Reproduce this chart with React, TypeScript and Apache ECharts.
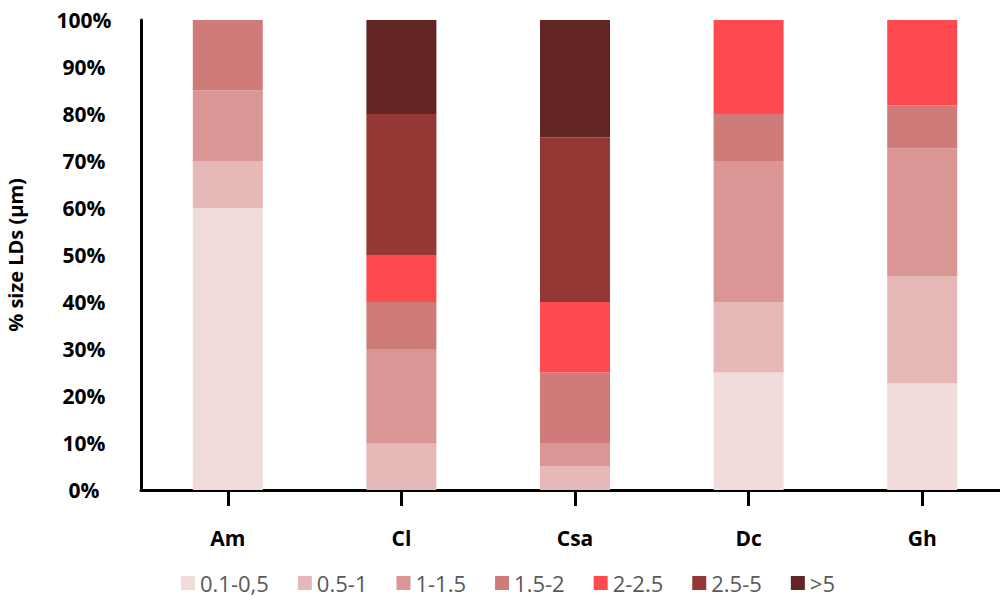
import React, { useEffect, useRef } from "react";
import * as echarts from "echarts";

// Sample groups along the x axis
const categories = ["Am", "Cl", "Csa", "Dc", "Gh"];

// Share (%) of lipid droplets in each size class, per sample
const size01to05 = [60, 0, 0, 25, 22.7];
const size05to1 = [10, 10, 5, 15, 22.7];
const size1to15 = [15, 20, 5, 30, 27.3];
const size15to2 = [15, 10, 15, 10, 9.1];
const size2to25 = [0, 10, 15, 20, 18.2];
const size25to5 = [0, 30, 35, 0, 0];
const sizeOver5 = [0, 20, 25, 0, 0];

const classNames = ["0.1-0,5", "0.5-1", "1-1.5", "1.5-2", "2-2.5", "2.5-5", ">5"];
const classValues = [size01to05, size05to1, size1to15, size15to2, size2to25, size25to5, sizeOver5];
const classColors = ["#f2dcdb", "#e6b9b8", "#d99694", "#cf7b79", "#ff4b50", "#953735", "#632523"];

const FONT = "'Open Sans', 'Noto Sans', sans-serif";

export default function App() {
  const ref = useRef<HTMLDivElement>(null);

  useEffect(() => {
    if (!ref.current) return;
    const chart = echarts.init(ref.current, undefined, { renderer: "svg" });
    chart.setOption({
      animation: false,
      backgroundColor: "#ffffff",
      textStyle: { fontFamily: FONT },
      grid: {
        left: 141,
        right: -9,
        top: 20,
        bottom: 110,
        containLabel: false,
        outerBoundsMode: "none",
      },
      legend: {
        top: 572,
        left: 181,
        padding: 0,
        itemWidth: 14,
        itemHeight: 14,
        itemGap: 29,
        icon: "rect",
        textStyle: { color: "#595959", fontSize: 22, lineHeight: 22, fontFamily: FONT },
        data: classNames,
      },
      xAxis: {
        type: "category",
        data: categories,
        boundaryGap: true,
        axisLine: { show: true, lineStyle: { color: "#000", width: 3 } },
        axisTick: { show: true, alignWithLabel: true, length: 16, lineStyle: { color: "#000", width: 3 } },
        axisLabel: { color: "#000", fontSize: 21, fontWeight: "bold", margin: 37, fontFamily: FONT },
      },
      yAxis: {
        type: "value",
        min: 0,
        max: 100,
        interval: 10,
        name: "% size LDs (µm)",
        nameLocation: "middle",
        nameGap: 116,
        nameTextStyle: { color: "#000", fontSize: 20, fontWeight: "bold", fontFamily: FONT },
        axisLine: { show: true, lineStyle: { color: "#000", width: 3 } },
        axisTick: { show: false },
        splitLine: { show: false },
        axisLabel: {
          color: "#000",
          fontSize: 21,
          fontWeight: "bold",
          align: "center",
          margin: 57,
          fontFamily: FONT,
          formatter: "{value}%",
        },
      },
      series: classNames.map((name, i) => ({
        name,
        type: "bar",
        stack: "total",
        barWidth: 70,
        itemStyle: { color: classColors[i] },
        data: classValues[i],
      })),
    });
    return () => chart.dispose();
  }, []);

  return (
    <div
      ref={ref}
      style={{ position: "fixed", left: 0, top: 0, width: 1000, height: 600 }}
    />
  );
}
